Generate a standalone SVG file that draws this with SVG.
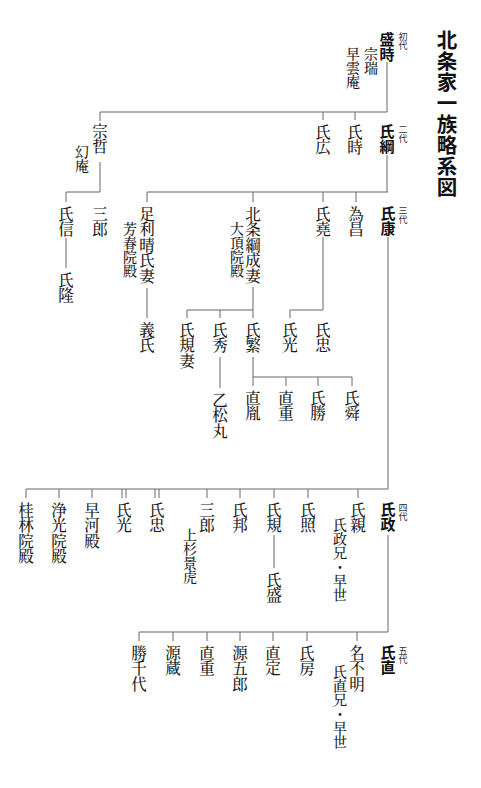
<svg xmlns="http://www.w3.org/2000/svg" width="481" height="788" viewBox="0 0 481 788">
<style>
text{writing-mode:vertical-rl;font-family:"Noto Serif CJK JP","Noto Sans CJK JP",serif;fill:#1a1a1a;font-weight:500;}
.n{font-size:15.5px;}
.s{font-size:14px;}
.b{font-size:15px;font-weight:bold;fill:#111;font-family:"Noto Sans CJK JP",sans-serif;}
.g{font-size:9px;font-weight:normal;font-family:"Noto Sans CJK JP",sans-serif;fill:#333;}
.t{font-size:20.5px;font-weight:bold;fill:#111;letter-spacing:0.5px;font-family:"Noto Sans CJK JP",sans-serif;}
#connectors path{stroke:#666;stroke-width:1;fill:none;}
</style>
<rect width="481" height="788" fill="#fff"/>
<g id="connectors">
<path d="M387 62V112M100 112H387M355 112V120M323 112V120M100 112V121"/>
<path d="M387 155V192M147 192H388M356 192V202M323 192V202M253 192V202M147 192V202"/>
<path d="M100 162V192M66 192H100M66 192V202M66 238V268"/>
<path d="M147 288V318"/>
<path d="M253 287V310M187 310H253M187 310V318M220 310V318M253 310V318"/>
<path d="M323 237V310M290 310H323M290 310V318"/>
<path d="M220 357V388M253 357V386M253 377H352M286 377V386M318 377V386M352 377V386"/>
<path d="M388 237V489M26 489H388M26 489V498M59 489V498M92 489V498M122 489V498M126 489V498M155 489V498M159 489V498M207 489V498M240 489V498M274 489V498M308 489V498M358 489V498"/>
<path d="M274 535V568"/>
<path d="M388 535V632M139 632H388M139 632V641M173 632V641M207 632V641M240 632V641M273 632V641M307 632V641M357 632V641"/>
</g>
<g id="title"><text class="t" x="447" y="30">北条家一族略系図</text></g>
<g id="n-moritoki"><text class="b" x="387" y="32">盛時</text><text class="g" x="403" y="32">初代</text><text class="s" x="371" y="47">宗瑞</text><text class="s" x="353" y="47">早雲庵</text></g>
<g id="n-ujitsuna"><text class="b" x="387" y="124">氏綱</text><text class="g" x="403" y="125">二代</text></g>
<g id="n-ujitoki"><text class="n" x="355" y="124">氏時</text></g>
<g id="n-ujihiro"><text class="n" x="323" y="124">氏広</text></g>
<g id="n-soutetsu"><text class="n" x="100" y="123">宗哲</text><text class="s" x="82" y="145">幻庵</text></g>
<g id="n-saburo1"><text class="n" x="100" y="206">三郎</text></g>
<g id="n-ujinobu"><text class="n" x="66" y="206">氏信</text></g>
<g id="n-ujitaka"><text class="n" x="66" y="272">氏隆</text></g>
<g id="n-ujiyasu"><text class="b" x="388" y="206">氏康</text><text class="g" x="403" y="206">三代</text></g>
<g id="n-tamemasa"><text class="n" x="356" y="206">為昌</text></g>
<g id="n-ujitaka2"><text class="n" x="323" y="206">氏堯</text></g>
<g id="n-tsunashige-tsuma"><text class="n" x="253" y="206">北条綱成妻</text><text class="s" x="237" y="222">大頂院殿</text></g>
<g id="n-ashikaga-tsuma"><text class="n" x="147" y="206">足利晴氏妻</text><text class="s" x="130" y="222">芳春院殿</text></g>
<g id="n-yoshiuji"><text class="n" x="147" y="322">義氏</text></g>
<g id="n-ujinori-tsuma"><text class="n" x="187" y="322">氏規妻</text></g>
<g id="n-ujihide"><text class="n" x="220" y="322">氏秀</text></g>
<g id="n-ujishige"><text class="n" x="253" y="322">氏繁</text></g>
<g id="n-ujimitsu1"><text class="n" x="290" y="322">氏光</text></g>
<g id="n-ujitada1"><text class="n" x="323" y="322">氏忠</text></g>
<g id="n-otomatsumaru"><text class="n" x="220" y="392">乙松丸</text></g>
<g id="n-naotane"><text class="n" x="253" y="390">直胤</text></g>
<g id="n-naoshige1"><text class="n" x="286" y="390">直重</text></g>
<g id="n-ujikatsu"><text class="n" x="318" y="390">氏勝</text></g>
<g id="n-ujitoki2"><text class="n" x="352" y="390">氏舜</text></g>
<g id="n-ujimasa"><text class="b" x="388" y="502">氏政</text><text class="g" x="403" y="503">四代</text></g>
<g id="n-ujichika"><text class="n" x="358" y="502">氏親</text><text class="s" x="340" y="518">氏政兄・早世</text></g>
<g id="n-ujiteru"><text class="n" x="308" y="502">氏照</text></g>
<g id="n-ujinori"><text class="n" x="274" y="502">氏規</text></g>
<g id="n-ujimori"><text class="n" x="274" y="572">氏盛</text></g>
<g id="n-ujikuni"><text class="n" x="240" y="502">氏邦</text></g>
<g id="n-saburo2"><text class="n" x="207" y="502">三郎</text><text class="s" x="190" y="528">上杉景虎</text></g>
<g id="n-ujitada2"><text class="n" x="157" y="502">氏忠</text></g>
<g id="n-ujimitsu2"><text class="n" x="124" y="502">氏光</text></g>
<g id="n-hayakawa"><text class="n" x="92" y="502">早河殿</text></g>
<g id="n-joko"><text class="n" x="59" y="502">浄光院殿</text></g>
<g id="n-keirin"><text class="n" x="26" y="502">桂林院殿</text></g>
<g id="n-ujinao"><text class="b" x="388" y="645">氏直</text><text class="g" x="403" y="646">五代</text></g>
<g id="n-meifumei"><text class="n" x="357" y="645">名不明</text><text class="s" x="340" y="665">氏直兄・早世</text></g>
<g id="n-ujifusa"><text class="n" x="307" y="645">氏房</text></g>
<g id="n-naosada"><text class="n" x="273" y="645">直定</text></g>
<g id="n-gengoro"><text class="n" x="240" y="645">源五郎</text></g>
<g id="n-naoshige2"><text class="n" x="207" y="645">直重</text></g>
<g id="n-genzo"><text class="n" x="173" y="645">源蔵</text></g>
<g id="n-katsuchiyo"><text class="n" x="139" y="645">勝千代</text></g>
</svg>
